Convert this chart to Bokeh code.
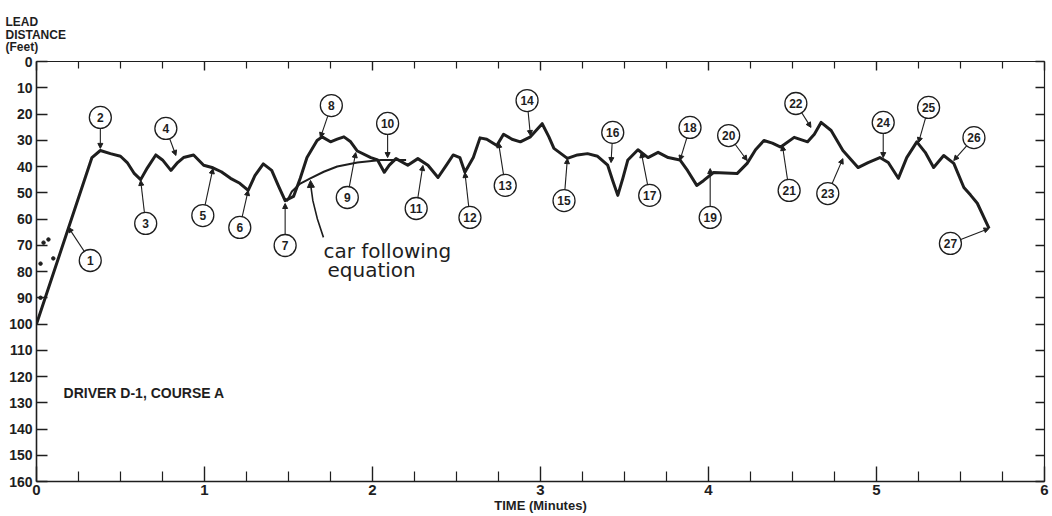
from bokeh.plotting import figure
from bokeh.models import (Range1d, LinearAxis, FixedTicker, Label, Arrow, NormalHead,
                          ColumnDataSource, CustomJSTickFormatter)
from bokeh.embed import file_html
from bokeh.resources import INLINE
from bokeh.core.properties import value

# ---- data ----
time_min = [0.00, 0.33, 0.38, 0.44, 0.50, 0.54, 0.58, 0.62, 0.66, 0.71, 0.75, 0.80, 0.84, 0.875, 0.935,
            0.995, 1.05, 1.10, 1.155, 1.21, 1.26, 1.30, 1.35, 1.40, 1.44, 1.48, 1.53, 1.57, 1.61, 1.67,
            1.70, 1.75, 1.79, 1.83, 1.87, 1.91, 1.99, 2.03, 2.07, 2.10, 2.14, 2.21, 2.27, 2.33, 2.39,
            2.44, 2.48, 2.52, 2.55, 2.60, 2.64, 2.68, 2.74, 2.78, 2.83, 2.88, 2.94, 3.01, 3.05, 3.08,
            3.16, 3.22, 3.28, 3.34, 3.40, 3.43, 3.46, 3.49, 3.52, 3.58, 3.64, 3.70, 3.76, 3.83, 3.875,
            3.93, 3.97, 4.03, 4.17, 4.23, 4.28, 4.33, 4.38, 4.43, 4.51, 4.59, 4.63, 4.67, 4.73, 4.80,
            4.89, 4.95, 5.02, 5.07, 5.13, 5.18, 5.24, 5.29, 5.34, 5.40, 5.46, 5.52, 5.56, 5.60, 5.67]
lead_ft = [100.0, 36.6, 33.9, 35.1, 36.1, 38.5, 42.5, 45.0, 40.5, 35.6, 37.5, 41.5, 38.5, 36.6, 35.6,
           39.5, 40.5, 42.0, 44.5, 46.4, 49.1, 43.5, 39.0, 41.5, 47.4, 53.0, 51.4, 44.5, 36.6, 30.1,
           28.7, 30.6, 29.6, 28.7, 30.6, 34.1, 36.6, 37.5, 42.2, 39.5, 37.0, 39.5, 37.0, 39.5, 44.2,
           39.5, 35.6, 36.6, 42.2, 36.6, 29.1, 29.6, 32.0, 27.7, 29.6, 30.6, 28.7, 23.7, 28.7, 33.1,
           36.9, 35.6, 35.1, 36.1, 39.5, 45.4, 51.0, 44.5, 37.5, 33.6, 36.6, 34.6, 36.6, 37.5, 41.5,
           47.2, 45.4, 42.3, 42.7, 38.8, 33.6, 30.1, 31.1, 32.6, 28.9, 30.6, 27.7, 23.2, 26.3, 33.9,
           40.4, 38.5, 36.6, 38.5, 44.5, 36.6, 30.6, 34.6, 40.4, 35.8, 38.8, 48.0, 50.9, 54.0, 63.6]

cf_time = [1.49, 1.52, 1.57, 1.63, 1.71, 1.79, 1.91, 2.05, 2.20]
cf_lead = [53.3, 49.5, 46.5, 44.5, 42.0, 40.0, 38.5, 37.5, 37.5]

dot_time = [0.042, 0.071, 0.024, 0.10, 0.024]
dot_lead = [69.0, 67.8, 77.0, 75.0, 90.0]

event_label = [str(i) for i in range(1, 28)]
event_time = [0.19, 0.38, 0.62, 0.83, 1.05, 1.26, 1.48, 1.69, 1.90, 2.09, 2.30, 2.55, 2.75, 2.94,
              3.16, 3.42, 3.60, 3.83, 4.01, 4.23, 4.44, 4.61, 4.80, 5.04, 5.25, 5.46, 5.67]
event_lead = [63.2, 33.1, 45.3, 35.8, 40.8, 49.1, 54.1, 29.0, 34.7, 36.6, 39.6, 42.3, 30.9, 28.2,
              37.0, 38.5, 34.7, 37.7, 40.8, 37.7, 32.0, 25.1, 37.0, 36.6, 30.9, 37.7, 63.6]

x_major = [0, 1, 2, 3, 4, 5, 6]
x_minor = [0.25, 0.5, 0.75, 1.25, 1.5, 1.75, 2.25, 2.5, 2.75, 3.25, 3.5, 3.75,
           4.25, 4.5, 4.75, 5.25, 5.5, 5.75]
y_major = [0, 10, 20, 30, 40, 50, 60, 70, 80, 90, 100, 110, 120, 130, 140, 150, 160]

# ---- placement of the numbered callouts (layout, not data) ----
tag_x = [0.32, 0.38, 0.65, 0.77, 0.99, 1.21, 1.48, 1.755, 1.85, 2.09, 2.26, 2.58, 2.79, 2.92,
         3.14, 3.43, 3.65, 3.89, 4.01, 4.12, 4.48, 4.52, 4.71, 5.04, 5.31, 5.58, 5.44]
tag_y = [75.8, 21.3, 61.7, 25.5, 58.7, 63.2, 70.1, 16.8, 51.8, 23.6, 56.0, 59.4, 47.2, 14.9,
         53.0, 27.0, 51.0, 25.1, 59.4, 28.2, 49.1, 16.0, 50.3, 23.2, 17.5, 29.0, 69.3]

INK = "#1e1e1e"
FONT = "Liberation Sans"

p = figure(width=1052, height=516, x_range=Range1d(0, 6), y_range=Range1d(160, 0),
           output_backend="svg", toolbar_location=None,
           x_axis_location=None, y_axis_location=None,
           min_border_left=36, min_border_right=8, min_border_top=61, min_border_bottom=35)
p.outline_line_color = None
p.background_fill_color = "white"
p.border_fill_color = "white"
p.xgrid.visible = False
p.ygrid.visible = False

# y-axis caption as the plot title (top-left)
p.title.text = "LEAD\nDISTANCE\n(Feet)"
p.title.align = "left"
p.title.offset = -31
p.title.standoff = 14
p.title.text_font = FONT
p.title.text_font_style = "bold"
p.title.text_font_size = "12px"
p.title.text_color = INK
p.title.text_line_height = 0.92


def make_axis(show_labels, major_in, minor_in, ticker, width):
    ax = LinearAxis(ticker=ticker)
    ax.major_tick_in = major_in
    ax.major_tick_out = 0
    ax.minor_tick_in = minor_in
    ax.minor_tick_out = 0
    ax.axis_line_color = INK
    ax.axis_line_width = width
    ax.major_tick_line_color = INK
    ax.minor_tick_line_color = INK
    ax.major_tick_line_width = 1.4
    ax.minor_tick_line_width = 1.2
    if show_labels:
        ax.major_label_text_font = FONT
        ax.major_label_text_font_style = "bold"
        ax.major_label_text_color = INK
        ax.major_label_standoff = 4
    else:
        ax.formatter = CustomJSTickFormatter(code="return ''")
        ax.major_label_standoff = 0
    return ax


xt = FixedTicker(ticks=x_major, minor_ticks=x_minor)
yt = FixedTicker(ticks=y_major, minor_ticks=[])

bottom = make_axis(True, 15, 10, xt, 1.6)
bottom.major_label_text_font_size = "15px"
bottom.major_label_standoff = 3
bottom.axis_label = "TIME (Minutes)"
bottom.axis_label_text_font = FONT
bottom.axis_label_text_font_style = "bold"
bottom.axis_label_text_font_size = "13px"
bottom.axis_label_text_color = INK
bottom.axis_label_standoff = 0
left = make_axis(True, 11, 0, yt, 1.6)
left.major_label_text_font_size = "14px"
top = make_axis(False, 9, 7, FixedTicker(ticks=x_major, minor_ticks=x_minor), 1.2)
right = make_axis(False, 9, 0, FixedTicker(ticks=y_major, minor_ticks=[]), 1.2)
p.add_layout(bottom, "below")
p.add_layout(left, "left")
p.add_layout(top, "above")
p.add_layout(right, "right")

# callout leader arrows beneath everything
arrow_src = ColumnDataSource(dict(x0=tag_x, y0=tag_y, x1=event_time, y1=event_lead))
p.add_layout(Arrow(source=arrow_src, x_start="x0", y_start="y0", x_end="x1", y_end="y1",
                   line_color=INK, line_width=1.1, level="underlay",
                   end=NormalHead(size=5, fill_color=INK, line_color=INK, line_width=1)))

# main trace
p.line(time_min, lead_ft, line_color=INK, line_width=3.0, line_join="round")
p.scatter(dot_time, dot_lead, size=3.5, color=INK)

# car following equation curve
p.line(cf_time, cf_lead, line_color=INK, line_width=2.0)

# pointer from the text to the curve
ptr_x = [1.708, 1.672, 1.645, 1.633]
ptr_y = [67.0, 60.0, 53.0, 47.5]
p.line(ptr_x, ptr_y, line_color=INK, line_width=1.6)
p.add_layout(Arrow(x_start=1.633, y_start=47.5, x_end=1.631, y_end=45.3, line_color=INK, line_width=1.4,
                   end=NormalHead(size=7, fill_color=INK, line_color=INK)))

# numbered circles
p.scatter(tag_x, tag_y, size=22, marker="circle", fill_color="white", line_color=INK, line_width=1.3)
p.text(x=tag_x, y=tag_y, text=event_label, text_align="center", text_baseline="middle",
       text_font=value(FONT), text_font_style="bold", text_font_size="12px", text_color=INK)

# texts inside the plot
p.add_layout(Label(x=1.708, y=72.0, text="car following", text_font="DejaVu Sans",
                   text_font_size="20px", text_baseline="middle", text_color=INK))
p.add_layout(Label(x=1.732, y=79.6, text="equation", text_font="DejaVu Sans",
                   text_font_size="20px", text_baseline="middle", text_color=INK))
p.add_layout(Label(x=0.161, y=126.1, text="DRIVER D-1, COURSE A", text_font=FONT,
                   text_font_style="bold", text_font_size="14px", text_baseline="middle", text_color=INK))

open("out.html", "w").write(file_html(p, INLINE))
